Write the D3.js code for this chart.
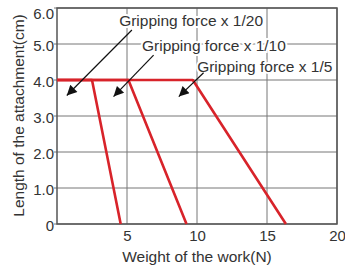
<!DOCTYPE html>
<html>
<head>
<meta charset="utf-8">
<script src="https://cdn.jsdelivr.net/npm/d3@7"></script>
<style>
    body { margin: 0; background: #fff; }
    text { font-family: "Liberation Sans", Arial, sans-serif; fill: #333; }
</style>
</head>
<body>
<div id="chart"></div>
<script>
// data
const seriesNames = ["Gripping force x 1/20", "Gripping force x 1/10", "Gripping force x 1/5"];
const weights = [
    [0, 2.5, 4.55],
    [0, 5.1, 9.25],
    [0, 9.7, 16.35]
];
const lengths = [4.0, 4.0, 0];
const xTicks = [5, 10, 15, 20];
const yTicks = [0, 1, 2, 3, 4, 5, 6];
const yTickLabels = ["0", "1.0", "2.0", "3.0", "4.0", "5.0", "6.0"];

// where the callouts sit (data units)
const labelAt = [[4.44, 5.5], [6.07, 4.81], [10.01, 4.22]];
const arrowFrom = [[5.35, 5.39], [6.9, 4.69], [10.47, 4.2]];
const arrowTo = [[0.7, 3.57], [4.04, 3.54], [8.7, 3.54]];

const width = 345, height = 270;
const margin = {top: 8, right: 8, bottom: 46, left: 57};
const mainWidth = width - margin.left - margin.right;
const mainHeight = height - margin.top - margin.bottom;
const fontSize = 15.5;
const tickFontSize = 15;
const gridColor = "#777";
const red = "#d8232a";

const svg = d3.select("#chart").append("svg")
    .attr("width", width)
    .attr("height", height);

svg.append("defs").append("marker")
    .attr("id", "head")
    .attr("viewBox", "0 0 10 10")
    .attr("refX", 10).attr("refY", 5)
    .attr("markerWidth", 14).attr("markerHeight", 10)
    .attr("markerUnits", "userSpaceOnUse")
    .attr("orient", "auto")
    .append("path")
    .attr("d", "M0,0 L10,5 L0,10 Z")
    .attr("fill", "#111");

const x = d3.scaleLinear().domain([0, 20]).range([0, mainWidth]);
const y = d3.scaleLinear().domain([0, 6]).range([mainHeight, 0]);

const g = svg.append("g")
    .attr("transform", `translate(${margin.left} ${margin.top})`);

// grid
g.append("g")
    .selectAll("line")
    .data(xTicks)
    .join("line")
    .attr("x1", d => x(d)).attr("x2", d => x(d))
    .attr("y1", 0).attr("y2", mainHeight)
    .attr("stroke", gridColor).attr("stroke-width", 1);

g.append("g")
    .selectAll("line")
    .data(yTicks)
    .join("line")
    .attr("x1", -3).attr("x2", mainWidth)
    .attr("y1", d => y(d)).attr("y2", d => y(d))
    .attr("stroke", gridColor).attr("stroke-width", 1);

g.append("rect")
    .attr("width", mainWidth).attr("height", mainHeight)
    .attr("fill", "none").attr("stroke", "#555").attr("stroke-width", 1.5);

// axes labels
const xAxis = g.append("g")
    .attr("transform", `translate(0 ${mainHeight})`)
    .call(d3.axisBottom(x).tickValues(xTicks).tickSize(0).tickPadding(6));
const yAxis = g.append("g")
    .call(d3.axisLeft(y).tickValues(yTicks).tickSize(0).tickPadding(3)
        .tickFormat((d, i) => yTickLabels[i]));
[xAxis, yAxis].forEach(a => {
    a.select(".domain").remove();
    a.selectAll("text").attr("font-size", tickFontSize)
        .attr("font-family", null).attr("fill", "#333");
});
// labels sit a little below their grid line, the top one kept inside
yAxis.selectAll("text").attr("dy", d => d === 6 ? "0.72em" : "0.45em");

// series
const line = d3.line()
    .x(d => x(d[0]))
    .y(d => y(d[1]));

g.selectAll(".series")
    .data(weights)
    .join("path")
    .attr("class", "series")
    .attr("d", w => line(w.map((v, i) => [v, lengths[i]])))
    .attr("fill", "none")
    .attr("stroke", red)
    .attr("stroke-width", 2.6)
    .attr("stroke-linejoin", "round");

// callouts
g.selectAll(".label")
    .data(seriesNames)
    .join("text")
    .attr("class", "label")
    .attr("x", (d, i) => x(labelAt[i][0]))
    .attr("y", (d, i) => y(labelAt[i][1]))
    .attr("font-size", fontSize)
    .attr("stroke", "#fff").attr("stroke-width", 4)
    .attr("paint-order", "stroke")
    .text(d => d);

g.selectAll(".arrow")
    .data(seriesNames)
    .join("line")
    .attr("class", "arrow")
    .attr("x1", (d, i) => x(arrowFrom[i][0]))
    .attr("y1", (d, i) => y(arrowFrom[i][1]))
    .attr("x2", (d, i) => x(arrowTo[i][0]))
    .attr("y2", (d, i) => y(arrowTo[i][1]))
    .attr("stroke", "#111").attr("stroke-width", 1.2)
    .attr("marker-end", "url(#head)");

// titles
svg.append("text")
    .attr("x", margin.left + mainWidth / 2)
    .attr("y", 262)
    .attr("text-anchor", "middle")
    .attr("font-size", fontSize)
    .text("Weight of the work(N)");

svg.append("text")
    .attr("transform", "translate(24 115.5) rotate(-90)")
    .attr("text-anchor", "middle")
    .attr("font-size", fontSize)
    .text("Length of the attachment(cm)");
</script>
</body>
</html>
